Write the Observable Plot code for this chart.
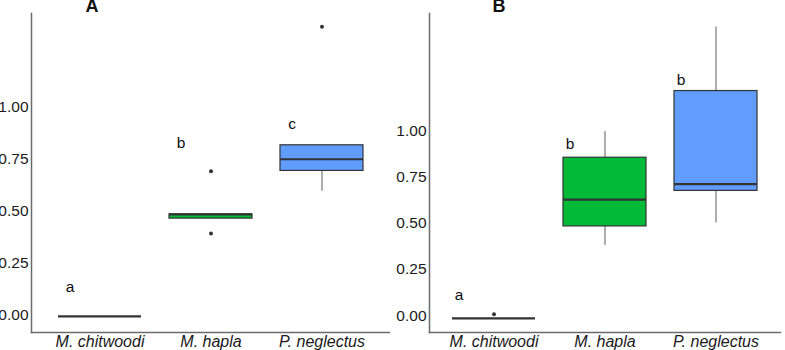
<!DOCTYPE html>
<html>
<head>
<meta charset="utf-8">
<script src="https://cdn.jsdelivr.net/npm/d3@7"></script>
<script src="https://cdn.jsdelivr.net/npm/@observablehq/plot@0.6"></script>
<style>
  body { margin: 0; background: #fff; }
  #wrap { display: flex; width: 785px; height: 350px; }
  svg { display: block; }
</style>
</head>
<body>
<div id="wrap"></div>
<script>
const species = ["M. chitwoodi", "M. hapla", "P. neglectus"];
const fills = ["#F8766D", "#00BA38", "#619CFF"];
const yTicks = [0, 0.25, 0.5, 0.75, 1.0];

// Panel A
const aLo  = [-0.005, 0.465, 0.596];
const aQ1  = [-0.005, 0.465, 0.694];
const aMed = [-0.005, 0.485, 0.750];
const aQ3  = [-0.005, 0.485, 0.817];
const aHi  = [-0.005, 0.485, 0.817];
const aOutSpecies = ["M. hapla", "M. hapla", "P. neglectus"];
const aOutValue   = [0.692, 0.394, 1.386];
const aLetters = ["a", "b", "c"];
const aLetterY = [0.135, 0.83, 0.918];

// Panel B
const bLo  = [-0.015, 0.380, 0.502];
const bQ1  = [-0.015, 0.484, 0.677];
const bMed = [-0.015, 0.629, 0.714];
const bQ3  = [-0.015, 0.857, 1.219];
const bHi  = [-0.015, 1.000, 1.567];
const bOutSpecies = ["M. chitwoodi"];
const bOutValue   = [0.007];
const bLetters = ["a", "b", "b"];
const bLetterY = [0.109, 0.929, 1.277];

function panel({title, lo, q1, med, q3, hi, outS, outV, letters, letterY, width, marginLeft, marginRight, yDomain, paddingOuter, titleDx, letterDx}) {
  const boxes = species.map((s, i) => ({s, lo: lo[i], q1: q1[i], med: med[i], q3: q3[i], hi: hi[i], fill: fills[i]}));
  const outs = outS.map((s, i) => ({s, v: outV[i]}));
  const labs = species.map((s, i) => ({s, t: letters[i], y: letterY[i]}));
  return Plot.plot({
    width, height: 350,
    marginLeft, marginRight, marginTop: 13, marginBottom: 18,
    style: {fontFamily: "'Liberation Sans', Arial, sans-serif", background: "transparent"},
    x: {domain: species, paddingInner: 0.25, paddingOuter, label: null},
    y: {domain: yDomain, label: null},
    marks: [
      Plot.frame({anchor: "left", stroke: "#6b6b6b", strokeWidth: 1.5}),
      Plot.frame({anchor: "bottom", stroke: "#6b6b6b", strokeWidth: 1.5}),
      Plot.axisY({ticks: yTicks, tickFormat: d3.format(".2f"), tickSize: 0, tickPadding: 3, fill: "#1a1a1a", fontSize: 15.5, label: null}),
      Plot.axisX({tickSize: 0, tickPadding: 3, fill: "#1a1a1a", fontSize: 16, fontStyle: "italic", label: null}),
      Plot.ruleX(boxes, {x: "s", y1: "lo", y2: "hi", stroke: "#777", strokeWidth: 1.2}),
      Plot.barY(boxes, {x: "s", y1: "q1", y2: "q3", fill: "fill", stroke: "#333", strokeWidth: 1.2}),
      Plot.tickY(boxes, {x: "s", y: "med", stroke: "#333", strokeWidth: 2.2}),
      Plot.dot(outs, {x: "s", y: "v", r: 2, fill: "#333", stroke: null}),
      Plot.text(labs, {x: "s", y: "y", text: "t", dx: letterDx, fontSize: 15.5, fill: "#111"}),
      Plot.text([title], {frameAnchor: "top-left", lineAnchor: "middle", dx: titleDx, dy: -7, text: d => d, fontSize: 18, fontWeight: "bold", fill: "#111"})
    ]
  });
}

const wrap = document.getElementById("wrap");
wrap.appendChild(panel({
  title: "A", lo: aLo, q1: aQ1, med: aMed, q3: aQ3, hi: aHi,
  outS: aOutSpecies, outV: aOutValue, letters: aLetters, letterY: aLetterY,
  width: 390, marginLeft: 31, marginRight: 0, yDomain: [-0.082, 1.45], paddingOuter: 0.228, titleDx: 54, letterDx: -30
}));
wrap.appendChild(panel({
  title: "B", lo: bLo, q1: bQ1, med: bMed, q3: bQ3, hi: bHi,
  outS: bOutSpecies, outV: bOutValue, letters: bLetters, letterY: bLetterY,
  width: 395, marginLeft: 39, marginRight: 5, yDomain: [-0.092, 1.64], paddingOuter: 0.206, titleDx: 63, letterDx: -35
}));
</script>
</body>
</html>
